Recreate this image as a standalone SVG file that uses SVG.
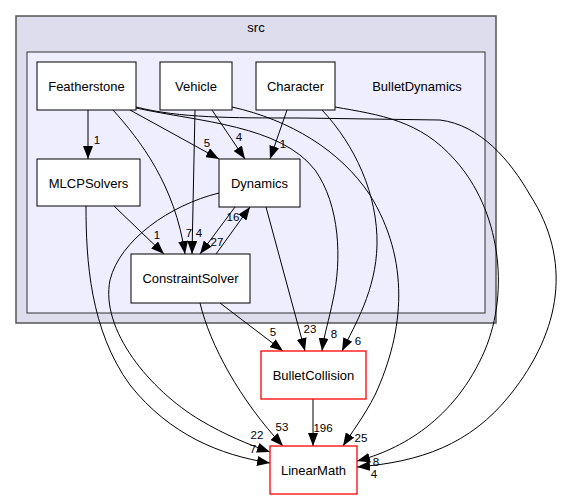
<svg xmlns="http://www.w3.org/2000/svg" width="562" height="500" viewBox="0 0 562 500">
<style>
.t{font-family:"Liberation Sans",Arial,sans-serif;font-size:13px;fill:#000;text-anchor:middle}
.l{font-family:"Liberation Sans",Arial,sans-serif;font-size:11.5px;fill:#000;text-anchor:middle}
.n{fill:#fff;stroke:#000;stroke-width:1}
.r{fill:#fff;stroke:#ff0000;stroke-width:1.3}
.e{fill:none;stroke:#000;stroke-width:1;marker-end:url(#a)}
</style>
<defs>
<marker id="a" markerUnits="userSpaceOnUse" markerWidth="13" markerHeight="10" refX="13" refY="5" orient="auto">
<path d="M0,0 L13,5 L0,10 z" fill="#000"/>
</marker>
</defs>
<rect width="562" height="500" fill="#fff"/>
<g id="cluster_src">
<rect x="16" y="16" width="480" height="307" fill="#ddddee" stroke="#555" stroke-width="1.5"/>
<text class="t" x="256" y="32">src</text>
</g>
<g id="cluster_BulletDynamics">
<rect x="27" y="52" width="458" height="261" fill="#eeeeff" stroke="#333" stroke-width="1"/>
<text class="t" x="417" y="90.5">BulletDynamics</text>
</g>
<g id="edges">
<path class="e" d="M88,110 L88,159"/>
<text class="l" x="97" y="144">1</text>
<path class="e" d="M130,110 L219,159"/>
<text class="l" x="207" y="147">5</text>
<path class="e" d="M113,110 C140,140 175,185 185,254"/>
<text class="l" x="189" y="237">7</text>
<path class="e" d="M195,110 L192,254"/>
<text class="l" x="199" y="237">4</text>
<path class="e" d="M212,110 L245,159"/>
<text class="l" x="239" y="141">4</text>
<path class="e" d="M287,110 L270,159"/>
<text class="l" x="283" y="148">1</text>
<path class="e" d="M114,206 L164,254"/>
<text class="l" x="157" y="239">1</text>
<path class="e" d="M235,207 L200,254"/>
<text class="l" x="217" y="246">27</text>
<path class="e" d="M216,254 L250,207"/>
<text class="l" x="233" y="221">16</text>
<path class="e" d="M266,207 L305,351"/>
<text class="l" x="310" y="333">23</text>
<path class="e" d="M220,303 L283,351"/>
<text class="l" x="273" y="336">5</text>
<path class="e" d="M136,108 C200,122 280,125 315,170 C340,205 342,260 333,300 C329,320 324,335 322,351"/>
<text class="l" x="334" y="338">8</text>
<path class="e" d="M232,107 C290,120 340,150 370,195 C410,260 405,330 375,395 C365,415 350,435 343,446"/>
<text class="l" x="361" y="442">25</text>
<path class="e" d="M322,110 C355,145 378,195 377,245 C376,290 355,325 342,351"/>
<text class="l" x="358" y="345">6</text>
<path class="e" d="M335,107 C380,115 420,120 455,160 C500,210 510,290 485,350 C455,420 400,450 357,461"/>
<text class="l" x="376" y="466">8</text>
<path class="e" d="M136,107 C180,118 230,118 300,118 L440,120 C480,125 510,160 530,195 C572,260 562,330 510,395 C470,445 420,462 357,467"/>
<text class="l" x="374" y="478">4</text>
<path class="e" d="M86,206 C86,260 90,330 130,385 C170,435 220,455 270,463"/>
<text class="l" x="253" y="453">7</text>
<path class="e" d="M219,193 C170,205 120,240 110,280 C100,330 150,390 200,420 C225,435 250,445 270,452"/>
<text class="l" x="257" y="439">22</text>
<path class="e" d="M200,303 C210,345 240,400 283,446"/>
<text class="l" x="282" y="431">53</text>
<path class="e" d="M313,399 L313,446"/>
<text class="l" x="323" y="432">196</text>
</g>
<g id="node_Featherstone">
<rect class="n" x="37" y="62" width="99" height="48"/>
<text class="t" x="86.5" y="90.5">Featherstone</text>
</g>
<g id="node_Vehicle">
<rect class="n" x="160" y="62" width="72" height="48"/>
<text class="t" x="196" y="90.5">Vehicle</text>
</g>
<g id="node_Character">
<rect class="n" x="256" y="62" width="79" height="48"/>
<text class="t" x="295.5" y="90.5">Character</text>
</g>
<g id="node_Dynamics">
<rect class="n" x="219" y="159" width="81" height="48"/>
<text class="t" x="259.5" y="187.5">Dynamics</text>
</g>
<g id="node_MLCPSolvers">
<rect class="n" x="37" y="159" width="103" height="47"/>
<text class="t" x="88.5" y="187.5">MLCPSolvers</text>
</g>
<g id="node_ConstraintSolver">
<rect class="n" x="131" y="254" width="119" height="49"/>
<text class="t" x="190.5" y="283">ConstraintSolver</text>
</g>
<g id="node_BulletCollision">
<rect class="r" x="261" y="351" width="105" height="48"/>
<text class="t" x="313.5" y="379.5">BulletCollision</text>
</g>
<g id="node_LinearMath">
<rect class="r" x="270" y="446" width="87" height="48"/>
<text class="t" x="313.5" y="474.5">LinearMath</text>
</g>
</svg>
